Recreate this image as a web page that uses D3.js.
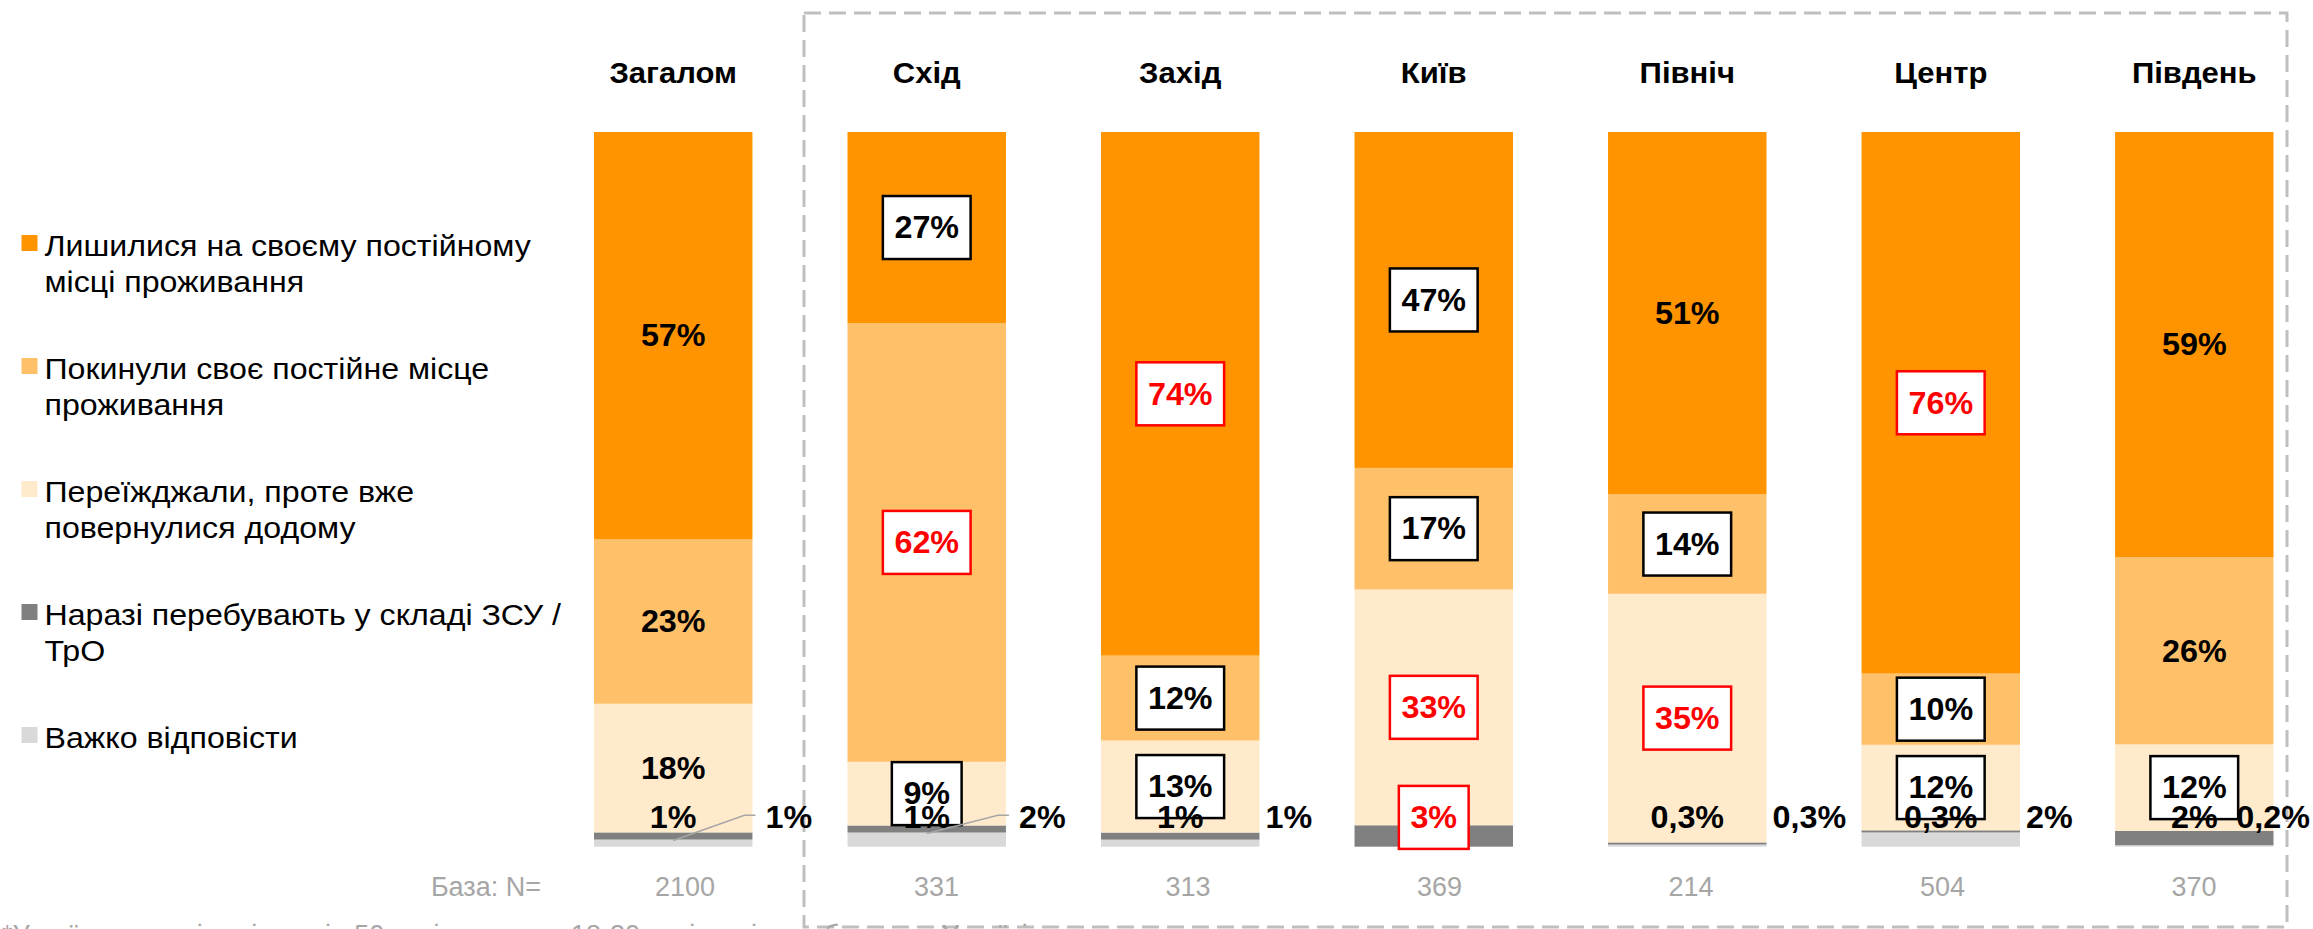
<!DOCTYPE html>
<html lang="uk">
  <head>
    <meta charset="UTF-8" />
    <title>Місце проживання</title>
    <style>
      body {
        margin: 0;
        background: #fff;
        font-family: "Liberation Sans", Arial, sans-serif;
      }
    </style>
    <script src="https://d3js.org/d3.v7.min.js"></script>
  </head>
  <body>
  </body>
  <script>
    // categories and sample sizes
    const categories = ["Загалом", "Схід", "Захід", "Київ", "Північ", "Центр", "Південь"]
    const baseN = [2100, 331, 313, 369, 214, 504, 370]

    // series values, %
    const stayed   = [57, 27, 74, 47, 51, 76, 59]
    const left     = [23, 62, 12, 17, 14, 10, 26]
    const returned = [18, 9, 13, 33, 35, 12, 12]
    const army     = [1, 1, 1, 3, 0.3, 0.3, 2]
    const hard     = [1, 2, 1, 0, 0.3, 2, 0.2]

    // significance marks: "+" higher than total, "-" lower, "" none
    const stayedSig   = ["", "-", "+", "-", "", "+", ""]
    const leftSig     = ["", "+", "-", "-", "-", "-", ""]
    const returnedSig = ["", "-", "-", "+", "+", "-", "-"]
    const armySig     = ["", "", "", "+", "", "", ""]

    const legendLabels = [
      "Лишилися на своєму постійному\nмісці проживання",
      "Покинули своє постійне місце\nпроживання",
      "Переїжджали, проте вже\nповернулися додому",
      "Наразі перебувають у складі ЗСУ /\nТрО",
      "Важко відповісти"
    ]
    const baseLabel = "База: N="
    const footnote = "*Україна, чоловіки віком від 50 років, а також 18-30 років, які перебували в Україні"

    const W = 2313, H = 929
    const keys = ["hard", "army", "returned", "left", "stayed"]
    const colors = {
      stayed: "#ff9400", left: "#ffc06a", returned: "#ffeacb",
      army: "#808080", hard: "#d9d9d9"
    }
    const sigs = { stayed: stayedSig, left: leftSig, returned: returnedSig, army: armySig }

    // the source text is a bit wider than Liberation Sans
    const sxValue = 1.06, sxTitle = 1.07, sxLegend = 1.09

    const rows = categories.map((c, i) => ({
      cat: c, stayed: stayed[i], left: left[i], returned: returned[i], army: army[i], hard: hard[i], idx: i
    }))

    const series = d3.stack().keys(keys).offset(d3.stackOffsetExpand)(rows)

    const svg = d3.select("body").append("svg")
        .attr("width", W)
        .attr("height", H)

    const x = d3.scaleBand()
        .domain(categories)
        .range([594, 2273.5])
        .paddingInner(0.375)
        .paddingOuter(0)

    const y = d3.scaleLinear()
        .domain([0, 1])
        .range([846.7, 132])

    const nx = d3.scalePoint()
        .domain(categories)
        .range([685, 2194])

    const fmt = v => (v % 1 ? v.toFixed(1).replace(".", ",") : v) + "%"
    const bw = x.bandwidth()

    // dashed frame around regions
    svg.append("rect")
        .attr("x", 804).attr("y", 13)
        .attr("width", 1483).attr("height", 914)
        .attr("fill", "none")
        .attr("stroke", "#bfbfbf")
        .attr("stroke-width", 3)
        .attr("stroke-dasharray", "17 8")

    // bars
    svg.append("g").selectAll("g")
      .data(series)
      .enter().append("g")
        .attr("fill", d => colors[d.key])
      .selectAll("rect")
      .data(d => d)
      .enter().append("rect")
        .attr("x", d => x(d.data.cat))
        .attr("y", d => y(d[1]))
        .attr("width", bw)
        .attr("height", d => y(d[0]) - y(d[1]))

    // column titles
    svg.append("g").selectAll("text")
      .data(categories)
      .enter().append("text")
        .attr("transform", d => `translate(${x(d) + bw / 2},83) scale(${sxTitle},1)`)
        .attr("text-anchor", "middle")
        .attr("font-size", 29)
        .attr("font-weight", "bold")
        .attr("fill", "#000")
        .text(d => d)

    function addLabel(g, px, baseline, txt, sig, anchor) {
      let box = null
      if (sig) box = g.append("rect")
      const t = g.append("text")
          .attr("transform", `translate(${px},${baseline}) scale(${sxValue},1)`)
          .attr("text-anchor", anchor || "middle")
          .attr("font-size", 30.5)
          .attr("font-weight", "bold")
          .attr("fill", sig === "+" ? "#ff0000" : "#000")
          .text(txt)
      const w = t.node().getBBox().width * sxValue
      if (box) {
        const mid = baseline - 10.8
        box.attr("x", px - w / 2 - 11.5)
          .attr("y", mid - 31.5)
          .attr("width", w + 23)
          .attr("height", 63)
          .attr("fill", "#fff")
          .attr("stroke", sig === "+" ? "#ff0000" : "#000")
          .attr("stroke-width", 2.5)
      }
      return { node: t, width: w }
    }

    const labels = svg.append("g")

    // labels centred in the big segments
    series.filter(s => ["returned", "left", "stayed"].includes(s.key)).forEach(s => {
      s.forEach(d => {
        const v = d.data[s.key]
        if (!v) return
        const cx = x(d.data.cat) + bw / 2
        const cy = y((d[0] + d[1]) / 2)
        addLabel(labels.append("g"), cx, cy + 10.8, fmt(v), sigs[s.key][d.data.idx])
      })
    })

    // small segments: army inside at the base, hard outside on the right
    const smallBase = y(0) - 18.5
    const leaderFor = new Set(["Загалом", "Схід"])
    const hardSeries = series.find(s => s.key === "hard")

    hardSeries.forEach(d => {
      const v = d.data.hard
      if (!v) return
      const right = x(d.data.cat) + bw
      const g = labels.append("g")
      const lead = leaderFor.has(d.data.cat)
      if (lead) {
        const ly = smallBase - 13
        g.append("path")
            .attr("fill", "none")
            .attr("stroke", "#a6a6a6")
            .attr("stroke-width", 1.5)
            .attr("d", d3.line()([
              [x(d.data.cat) + bw / 2, y(d[1]) + 1],
              [right - 8, ly],
              [right + 3, ly]
            ]))
      }
      let px = right + (lead ? 13 : 6)
      const lab = addLabel(g, px, smallBase, fmt(v), "", "start")
      if (px + lab.width > W - 3) {
        px = W - 3 - lab.width
        lab.node.attr("transform", `translate(${px},${smallBase}) scale(${sxValue},1)`)
      }
    })

    rows.forEach(d => {
      if (!d.army) return
      addLabel(labels.append("g"), x(d.cat) + bw / 2, smallBase, fmt(d.army), armySig[d.idx])
    })

    // base row
    svg.append("text")
        .attr("x", 541)
        .attr("y", 896)
        .attr("text-anchor", "end")
        .attr("font-size", 27)
        .attr("fill", "#a6a6a6")
        .text(baseLabel)

    svg.append("g").selectAll("text")
      .data(rows)
      .enter().append("text")
        .attr("x", d => nx(d.cat))
        .attr("y", 896)
        .attr("text-anchor", "middle")
        .attr("font-size", 27)
        .attr("fill", "#a6a6a6")
        .text(d => baseN[d.idx])

    // legend (top to bottom = stack top to bottom)
    const legendKeys = ["stayed", "left", "returned", "army", "hard"]
    const legend = svg.append("g").selectAll("g")
      .data(legendKeys)
      .enter().append("g")
        .attr("transform", (d, i) => `translate(0,${256 + i * 123})`)

    legend.append("rect")
        .attr("x", 21.5)
        .attr("y", -21)
        .attr("width", 16)
        .attr("height", 16)
        .attr("fill", d => colors[d])

    legend.append("text")
        .attr("transform", `translate(44.5,0) scale(${sxLegend},1)`)
        .attr("font-size", 29.5)
        .attr("fill", "#000")
      .selectAll("tspan")
      .data((d, i) => legendLabels[i].split("\n"))
      .enter().append("tspan")
        .attr("x", 0)
        .attr("dy", (d, i) => i ? 36.5 : 0)
        .text(d => d)

    // footnote, cut at the bottom edge
    svg.append("text")
        .attr("x", 2)
        .attr("y", 944)
        .attr("font-size", 27)
        .attr("fill", "#a6a6a6")
        .text(footnote)
  </script>
</html>
